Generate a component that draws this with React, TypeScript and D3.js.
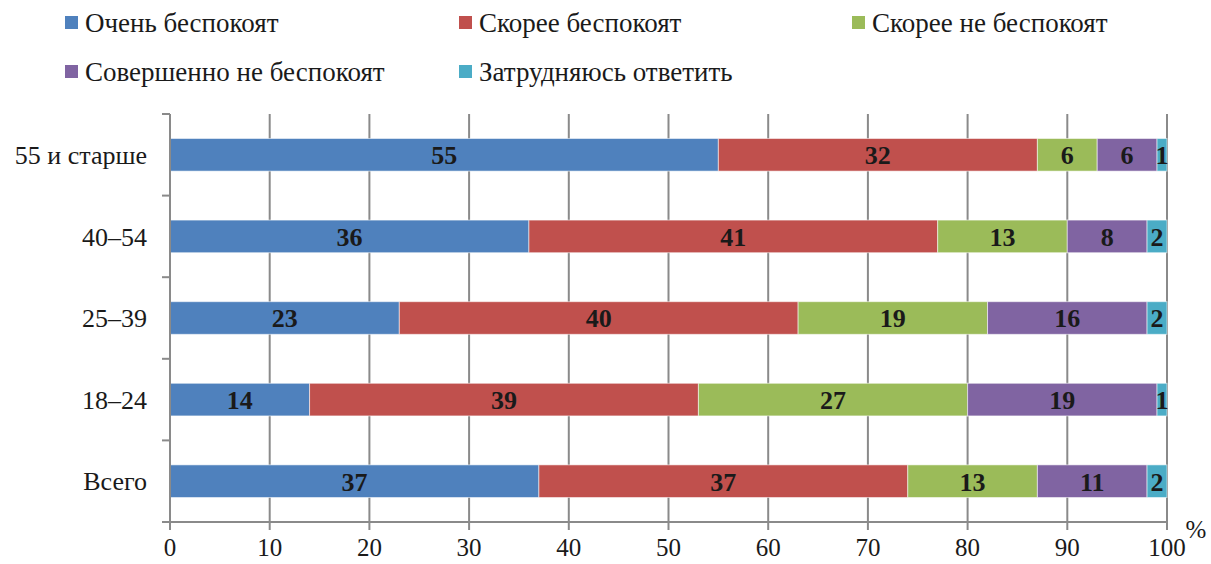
import * as d3 from 'd3';
import React, { useEffect, useRef } from 'react';

const categories = ['55 и старше', '40–54', '25–39', '18–24', 'Всего'];
const seriesNames = [
  'Очень беспокоят',
  'Скорее беспокоят',
  'Скорее не беспокоят',
  'Совершенно не беспокоят',
  'Затрудняюсь ответить',
];
const veryConcerned = [55, 36, 23, 14, 37];
const ratherConcerned = [32, 41, 40, 39, 37];
const ratherNot = [6, 13, 19, 27, 13];
const notAtAll = [6, 8, 16, 19, 11];
const hardToSay = [1, 2, 2, 1, 2];
const xTicks = [0, 10, 20, 30, 40, 50, 60, 70, 80, 90, 100];

const colors = ['#4F81BD', '#C0504D', '#9BBB59', '#8064A2', '#4BACC6'];

const width = 1211;
const height = 564;
const margin = { top: 114, right: 44, bottom: 42, left: 170 };
const font = '"Liberation Serif", "Times New Roman", serif';

export default function App() {
  const ref = useRef<SVGSVGElement>(null);

  useEffect(() => {
    const svg = d3.select(ref.current);
    svg.selectAll('*').remove();

    const series = [veryConcerned, ratherConcerned, ratherNot, notAtAll, hardToSay];
    const rows = categories.map((cat, i) => {
      const row: Record<string, number | string> = { cat };
      seriesNames.forEach((s, j) => (row[s] = series[j][i]));
      return row;
    });

    const stack = d3.stack<Record<string, number | string>>().keys(seriesNames);
    const stacked = stack(rows as any);

    const x = d3
      .scaleLinear()
      .domain([0, 100])
      .range([margin.left, width - margin.right]);
    const y = d3
      .scaleBand()
      .domain(categories)
      .range([margin.top, height - margin.bottom])
      .paddingInner(0.6)
      .paddingOuter(0.3);

    const plotBottom = height - margin.bottom;
    const grid = '#8a8a8a';

    // vertical gridlines
    svg
      .append('g')
      .selectAll('line')
      .data(xTicks.slice(1))
      .join('line')
      .attr('x1', (d) => x(d))
      .attr('x2', (d) => x(d))
      .attr('y1', margin.top)
      .attr('y2', plotBottom)
      .attr('stroke', grid)
      .attr('stroke-width', 2);

    // bars
    const layer = svg
      .append('g')
      .selectAll('g')
      .data(stacked)
      .join('g')
      .attr('fill', (_, i) => colors[i]);

    layer
      .selectAll('rect')
      .data((d) => d)
      .join('rect')
      .attr('x', (d) => x(d[0]))
      .attr('y', (d) => y(d.data.cat as string)!)
      .attr('width', (d) => x(d[1]) - x(d[0]))
      .attr('height', y.bandwidth())
      .attr('stroke', '#ffffff')
      .attr('stroke-opacity', 0.55)
      .attr('stroke-width', 1);

    // value labels
    layer
      .selectAll('text')
      .data((d) => d)
      .join('text')
      .attr('x', (d) => (x(d[0]) + x(d[1])) / 2)
      .attr('y', (d) => y(d.data.cat as string)! + y.bandwidth() / 2)
      .attr('dy', '0.36em')
      .attr('text-anchor', 'middle')
      .attr('fill', '#1a1a1a')
      .attr('font-family', font)
      .attr('font-weight', 'bold')
      .attr('font-size', 26)
      .text((d) => d[1] - d[0]);

    // y axis
    const yAxis = svg.append('g');
    yAxis
      .append('line')
      .attr('x1', margin.left)
      .attr('x2', margin.left)
      .attr('y1', margin.top)
      .attr('y2', plotBottom)
      .attr('stroke', grid)
      .attr('stroke-width', 2);
    const bounds = d3.range(categories.length + 1).map(
      (i) => margin.top + (i * (plotBottom - margin.top)) / categories.length,
    );
    yAxis
      .selectAll('line.tick')
      .data(bounds)
      .join('line')
      .attr('class', 'tick')
      .attr('x1', margin.left - 8)
      .attr('x2', margin.left)
      .attr('y1', (d) => d)
      .attr('y2', (d) => d)
      .attr('stroke', grid)
      .attr('stroke-width', 2);
    yAxis
      .selectAll('text')
      .data(categories)
      .join('text')
      .attr('x', 147)
      .attr('y', (d) => y(d)! + y.bandwidth() / 2)
      .attr('dy', '0.35em')
      .attr('text-anchor', 'end')
      .attr('fill', '#1a1a1a')
      .attr('font-family', font)
      .attr('font-size', 26)
      .text((d) => d);

    // x axis
    const xAxis = svg.append('g');
    xAxis
      .append('line')
      .attr('x1', margin.left - 8)
      .attr('x2', x(100))
      .attr('y1', plotBottom)
      .attr('y2', plotBottom)
      .attr('stroke', grid)
      .attr('stroke-width', 2);
    xAxis
      .selectAll('line.tick')
      .data(xTicks)
      .join('line')
      .attr('class', 'tick')
      .attr('x1', (d) => x(d))
      .attr('x2', (d) => x(d))
      .attr('y1', plotBottom)
      .attr('y2', plotBottom + 8)
      .attr('stroke', grid)
      .attr('stroke-width', 2);
    xAxis
      .selectAll('text')
      .data(xTicks)
      .join('text')
      .attr('x', (d) => x(d))
      .attr('y', 556)
      .attr('text-anchor', 'middle')
      .attr('fill', '#1a1a1a')
      .attr('font-family', font)
      .attr('font-size', 25)
      .text((d) => d);
    xAxis
      .append('text')
      .attr('x', 1196)
      .attr('y', 538)
      .attr('text-anchor', 'middle')
      .attr('fill', '#1a1a1a')
      .attr('font-family', font)
      .attr('font-size', 25)
      .text('%');

    // legend
    const legendPos = [
      [65, 23],
      [459, 23],
      [852, 23],
      [65, 72],
      [459, 72],
    ];
    const legend = svg
      .append('g')
      .selectAll('g')
      .data(seriesNames)
      .join('g')
      .attr('transform', (_, i) => `translate(${legendPos[i][0]},${legendPos[i][1]})`);
    legend
      .append('rect')
      .attr('x', 0)
      .attr('y', -7)
      .attr('width', 13)
      .attr('height', 13)
      .attr('fill', (_, i) => colors[i]);
    legend
      .append('text')
      .attr('x', 20)
      .attr('y', 0)
      .attr('dy', '0.35em')
      .attr('fill', '#1a1a1a')
      .attr('font-family', font)
      .attr('font-size', 27)
      .text((d) => d);
  }, []);

  return (
    <svg
      ref={ref}
      width={width}
      height={height}
      style={{ position: 'absolute', left: 0, top: 0, background: '#fff' }}
    />
  );
}
